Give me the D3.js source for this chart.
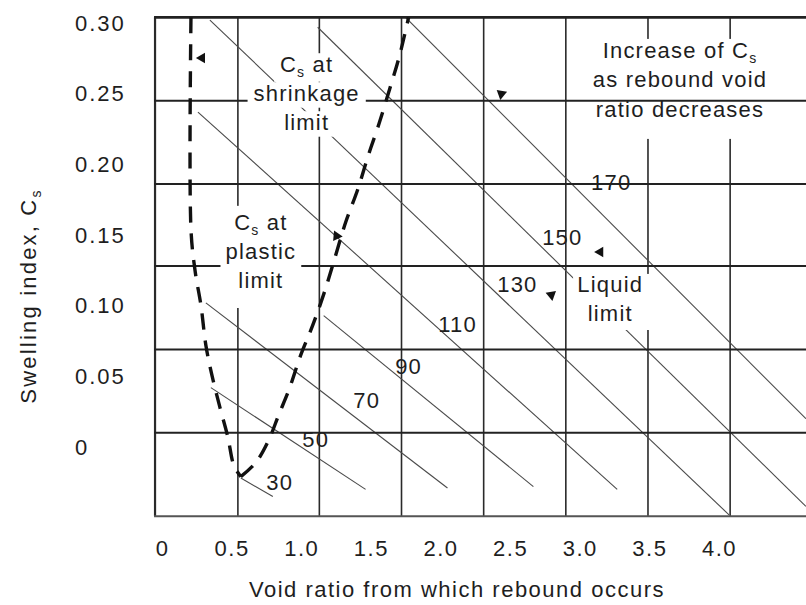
<!DOCTYPE html>
<html>
<head>
<meta charset="utf-8">
<script src="https://cdn.jsdelivr.net/npm/d3@7/dist/d3.min.js"></script>
<style>
  body { margin: 0; background: #fff; }
  text { font-family: "Liberation Sans", Arial, sans-serif; fill: #1e1e1e; }
</style>
</head>
<body>
<svg id="chart" width="806" height="605"></svg>
<script>
const width = 806, height = 605;
const font_size = 22;
const letter_sp = 1.5;

// tick labels
const xTicks = [0, 0.5, 1.0, 1.5, 2.0, 2.5, 3.0, 3.5, 4.0];
const yTicks = [0.30, 0.25, 0.20, 0.15, 0.10, 0.05, 0];

// printed grid (axis units)
const gridE = [-0.05, 0.545, 1.13, 1.72, 2.31, 2.90, 3.49, 4.08];
const gridCs = [0.304, 0.245, 0.186, 0.128, 0.069, 0.010, -0.049];

// liquid limit lines, [void ratio, Cs] at both ends
const liquidLimits = [30, 50, 70, 90, 110, 130, 150, 170];
const llStart = [[0.566, -0.022], [0.351, 0.042], [0.315, 0.102], [1.161, 0.093],
                 [0.258, 0.237], [0.344, 0.302], [1.118, 0.297], [1.749, 0.304]];
const llEnd = [[0.796, -0.035], [1.462, -0.030], [2.050, -0.029], [2.667, -0.028],
               [3.269, -0.030], [4.072, -0.048], [4.624, -0.042], [4.624, 0.020]];
const llLabelAt = [[0.846, -0.025], [1.104, 0.005], [1.470, 0.033], [1.771, 0.057],
                   [2.122, 0.087], [2.552, 0.115], [2.875, 0.148], [3.226, 0.187]];

// Cs at plastic limit (left dashed curve)
const plasticE = [0.208, 0.208, 0.237, 0.280, 0.315, 0.358, 0.416, 0.473, 0.516, 0.566];
const plasticCs = [0.304, 0.154, 0.125, 0.100, 0.072, 0.051, 0.028, 0.007, -0.013, -0.021];

// Cs at shrinkage limit (right dashed curve)
const shrinkE = [0.566, 0.674, 0.767, 0.839, 0.910, 0.996, 1.082, 1.161, 1.233, 1.319,
                 1.405, 1.477, 1.556, 1.634, 1.706, 1.771];
const shrinkCs = [-0.021, -0.011, 0.005, 0.023, 0.040, 0.065, 0.086, 0.108, 0.131, 0.159,
                  0.182, 0.205, 0.228, 0.253, 0.277, 0.304];

// small arrow heads: [e, Cs, angle]
const arrowAt = [[0.287, 0.2753, -90], [2.437, 0.2498, 70], [3.147, 0.138, 150],
                 [2.796, 0.1076, 170], [1.254, 0.1493, 215]];

// text notes
const notes = [
  {lines: ["C_s at", "shrinkage", "limit"], at: [1.039, 0.265], lh: 29, mode: "lines", pad: [3, 6, 3, 6], maskH: true},
  {lines: ["C_s at", "plastic", "limit"], at: [0.710, 0.1536], lh: 29, mode: "union", pad: [8, 5, 17, 5], maskH: true},
  {lines: ["Increase of C_s", "as rebound void", "ratio decreases"], at: [3.720, 0.2753], lh: 29.5, mode: "union", pad: [3, 4, 19, 4], maskH: false},
  {lines: ["Liquid", "limit"], at: [3.219, 0.1097], lh: 29, mode: "union", pad: [2, 6, 6, 4], maskH: true}
];

const x = d3.scaleLinear().domain([0, 4]).range([162, 719]);
const y = d3.scaleLinear().domain([0, 0.3]).range([447, 23]);

const svg = d3.select("#chart");
const plotLeft = x(gridE[0]), plotTop = y(gridCs[0]), plotBottom = y(gridCs[gridCs.length - 1]);

svg.append("clipPath").attr("id", "plot")
  .append("rect").attr("x", plotLeft).attr("y", plotTop)
  .attr("width", width - plotLeft).attr("height", plotBottom - plotTop);

const gVert = svg.append("g");
const gDiag = svg.append("g").attr("clip-path", "url(#plot)");
const gMask1 = svg.append("g");
const gHoriz = svg.append("g");
const gMask2 = svg.append("g");
const gCurves = svg.append("g").attr("clip-path", "url(#plot)");
const gText = svg.append("g");

// grid
gVert.selectAll("line").data(gridE).join("line")
  .attr("x1", d => x(d)).attr("x2", d => x(d))
  .attr("y1", plotTop).attr("y2", plotBottom)
  .attr("stroke", "#2a2a2a")
  .attr("stroke-width", (d, i) => i == 0 ? 2.2 : 1.6);

gHoriz.selectAll("line").data(gridCs).join("line")
  .attr("x1", plotLeft - 1).attr("x2", width)
  .attr("y1", d => y(d)).attr("y2", d => y(d))
  .attr("stroke", (d, i) => i == gridCs.length - 1 ? "#555" : "#222")
  .attr("stroke-width", (d, i) => i == 0 ? 2.6 : 2);

// liquid limit lines
gDiag.selectAll("line").data(liquidLimits).join("line")
  .attr("x1", (d, i) => x(llStart[i][0])).attr("y1", (d, i) => y(llStart[i][1]))
  .attr("x2", (d, i) => x(llEnd[i][0])).attr("y2", (d, i) => y(llEnd[i][1]))
  .attr("stroke", "#4a4a4a")
  .attr("stroke-width", 1.1);

// dashed limit curves
const curve = d3.line().x(d => x(d[0])).y(d => y(d[1])).curve(d3.curveCatmullRom.alpha(0.5));
[[plasticE, plasticCs], [shrinkE, shrinkCs]].forEach(([es, cs]) => {
  gCurves.append("path")
    .attr("d", curve(es.map((e, i) => [e, cs[i]])))
    .attr("fill", "none")
    .attr("stroke", "#111")
    .attr("stroke-width", 3.4)
    .attr("stroke-dasharray", "16,11");
});

gCurves.selectAll("path.arrow").data(arrowAt).join("path")
  .attr("class", "arrow")
  .attr("d", d3.symbol().type(d3.symbolTriangle).size(48))
  .attr("transform", d => `translate(${x(d[0])},${y(d[1])}) rotate(${d[2]})`)
  .attr("fill", "#111");

// writes a string into a text element, "C_s" gets a subscript s
function writeLine(t, str) {
  const parts = str.split("C_s");
  parts.forEach((p, i) => {
    if (i > 0) {
      t.append("tspan").text("C");
      t.append("tspan").text("s").attr("font-size", 14).attr("dy", 5);
      t.append("tspan").text(p).attr("dy", -5);
    } else if (p.length) {
      t.append("tspan").text(p);
    }
  });
}

// notes with white masks behind
notes.forEach(n => {
  const boxes = n.lines.map((ln, i) => {
    const t = gText.append("text")
      .attr("x", x(n.at[0])).attr("y", y(n.at[1]) + i * n.lh)
      .attr("text-anchor", "middle")
      .attr("font-size", font_size)
      .attr("letter-spacing", 1.2);
    writeLine(t, ln);
    return t.node().getBBox();
  });
  let rects = boxes;
  if (n.mode == "union") {
    const x0 = d3.min(boxes, b => b.x), x1 = d3.max(boxes, b => b.x + b.width);
    const y0 = d3.min(boxes, b => b.y), y1 = d3.max(boxes, b => b.y + b.height);
    rects = [{x: x0, y: y0, width: x1 - x0, height: y1 - y0}];
  }
  const [pt, pr, pb, pl] = n.pad;
  [gMask1].concat(n.maskH ? [gMask2] : []).forEach(g => {
    rects.forEach(b => {
      g.append("rect")
        .attr("x", b.x - pl).attr("y", b.y + 4 - pt)
        .attr("width", b.width + pl + pr).attr("height", b.height - 6 + pt + pb)
        .attr("fill", "#fff");
    });
  });
});

// liquid limit values
gText.selectAll("text.ll").data(liquidLimits).join("text")
  .attr("class", "ll")
  .attr("x", (d, i) => x(llLabelAt[i][0]))
  .attr("y", (d, i) => y(llLabelAt[i][1]))
  .attr("text-anchor", "middle")
  .attr("dominant-baseline", "central")
  .attr("font-size", font_size)
  .attr("letter-spacing", 1.2)
  .text(d => d);

// axes
const xAxis = svg.append("g")
  .attr("transform", "translate(0,548)")
  .call(d3.axisBottom(x).tickValues(xTicks).tickSize(0).tickPadding(0)
    .tickFormat(d => d == 0 ? "0" : d3.format(".1f")(d)));
xAxis.select(".domain").remove();
xAxis.selectAll("text")
  .attr("font-size", font_size).attr("letter-spacing", letter_sp)
  .attr("font-family", "Liberation Sans, Arial, sans-serif")
  .attr("fill", "#1e1e1e").attr("dy", "0.35em").attr("y", 0);

const yAxis = svg.append("g")
  .attr("transform", "translate(75,0)")
  .call(d3.axisLeft(y).tickValues(yTicks).tickSize(0).tickPadding(0)
    .tickFormat(d => d == 0 ? "0" : d3.format(".2f")(d)));
yAxis.select(".domain").remove();
yAxis.selectAll("text")
  .attr("text-anchor", "start").attr("x", 0)
  .attr("font-size", font_size).attr("letter-spacing", 2)
  .attr("font-family", "Liberation Sans, Arial, sans-serif")
  .attr("fill", "#1e1e1e");

// axis titles
svg.append("text")
  .attr("x", 457).attr("y", 597)
  .attr("text-anchor", "middle")
  .attr("font-size", font_size).attr("letter-spacing", letter_sp)
  .text("Void ratio from which rebound occurs");

const yTitle = svg.append("text")
  .attr("transform", "translate(36,296) rotate(-90)")
  .attr("text-anchor", "middle")
  .attr("font-size", font_size).attr("letter-spacing", 2.2);
writeLine(yTitle, "Swelling index, C_s");
</script>
</body>
</html>
